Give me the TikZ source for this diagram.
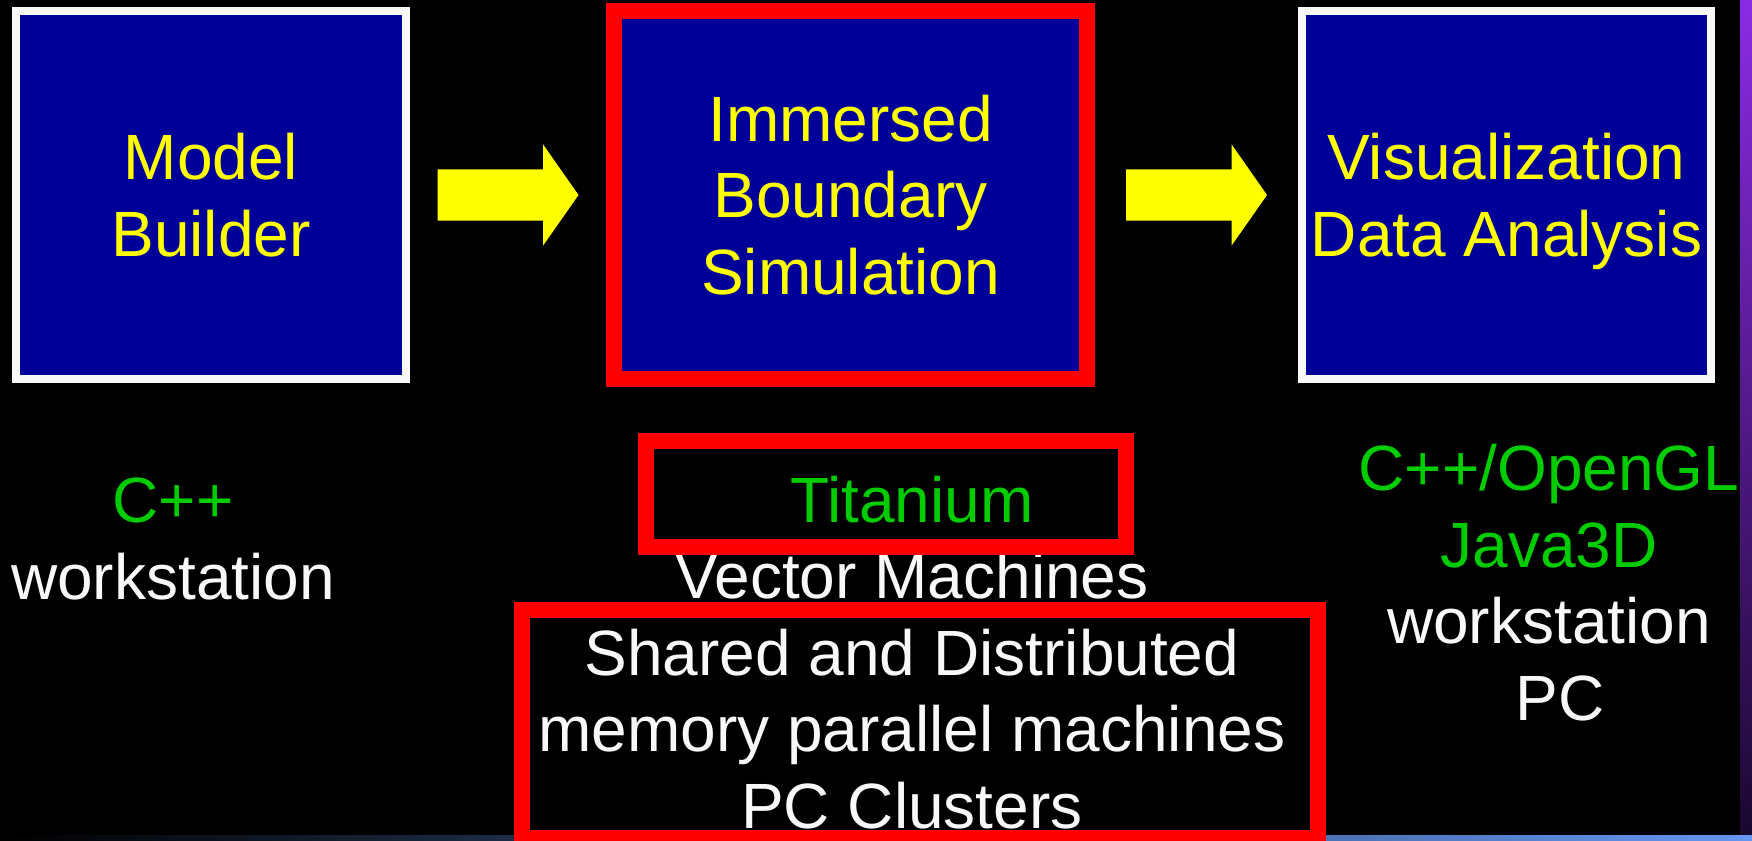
\documentclass[tikz,border=0pt]{standalone}
\usepackage{fontspec}
\setmainfont{Liberation Sans}
\usepackage{amsmath}
\usetikzlibrary{positioning, shapes.arrows, calc}

\definecolor{slideblue}{RGB}{0,0,153}
\definecolor{slideyellow}{RGB}{255,255,0}
\definecolor{slidegreen}{RGB}{0,204,0}
\definecolor{slidewhite}{RGB}{248,248,248}
\definecolor{slidered}{RGB}{255,0,0}
\definecolor{stripviolet}{RGB}{138,43,226}
\definecolor{stripdark}{RGB}{26,8,48}
\definecolor{barblue}{RGB}{100,150,240}

\begin{document}
\begin{tikzpicture}[x=1pt, y=-1pt,
    bigtext/.style = {font=\fontsize{64}{76.5}\selectfont, align=center, inner sep=0pt},
    stage/.style = {rectangle, fill=slideblue, text=slideyellow, bigtext,
        minimum height=368pt},
    plainframe/.style = {stage, draw=slidewhite, line width=8pt},
    hotframe/.style = {stage, draw=slidered, line width=16pt},
    redframe/.style = {rectangle, draw=slidered, line width=16pt, inner sep=0pt},
    flow/.style = {single arrow, fill=slideyellow, inner xsep=0pt, inner ysep=25.5pt,
        single arrow head extend=25pt, single arrow tip angle=110,
        minimum height=141pt, xshift=-9pt}]

% Slide background
\fill[black] (0,0) rectangle (1752,840);
\useasboundingbox (0,0) rectangle (1752,840);
\shade[top color=stripviolet, bottom color=stripdark] (1740,0) rectangle (1752,835);
\shade[left color=black, right color=barblue] (0,835) rectangle (1752,840);

% Stages
\node[plainframe, minimum width=390pt] (model) at (211,195) {Model\\Builder};
\node[hotframe, minimum width=473pt] (ibsim) at (850.5,195) {Immersed\\Boundary\\Simulation};
\node[plainframe, minimum width=409pt] (vis) at (1506.5,195) {Visualization\\\smash[b]{Data Analysis}};

% Flow arrows
\node[flow] (arrowA) at ($(model.east)!0.5!(ibsim.west)$) {};
\node[flow] (arrowB) at ($(ibsim.east)!0.5!(vis.west)$) {};

% Tools and platforms (base = last line)
\node[bigtext, anchor=base, text=slidewhite] (leftnote) at (173,599)
    {\textcolor{slidegreen}{C++}\\workstation};
\node[bigtext, anchor=base, text=slidewhite] (midnote) at (912,828)
    {\textcolor{slidegreen}{Titanium}\\Vector Machines\\Shared and Distributed\\memory parallel machines\\PC Clusters};
\node[bigtext, anchor=base, text=slidewhite] (rightnote) at (1549,720)
    {\textcolor{slidegreen}{C++/OpenGL}\\\textcolor{slidegreen}{Java3D}\\workstation\\\hspace*{22pt}PC};

% Highlights
\node[redframe, minimum width=480pt, minimum height=106pt] (tiframe) at (886,494) {};
\node[redframe, minimum width=796pt, minimum height=228pt] (hpcframe) at (920,724) {};
\end{tikzpicture}
\end{document}
